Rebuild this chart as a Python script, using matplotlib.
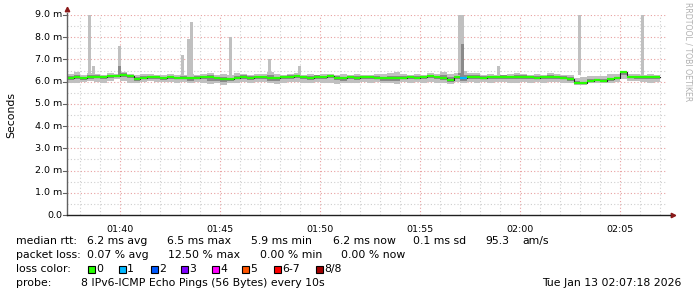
import numpy as np
import matplotlib
matplotlib.use("Agg")
import matplotlib.pyplot as plt

# smokeping style latency graph, 20 s buckets starting 01:37:21
start = "01:37:21"
step_s = 20

med = [6.18, 6.20, 6.16, 6.20, 6.22, 6.20, 6.25, 6.27, 6.30, 6.26, 6.12, 6.17, 6.20, 6.19, 6.16,
       6.20, 6.18, 6.17, 6.15, 6.18, 6.20, 6.22, 6.15, 6.12, 6.10, 6.18, 6.22, 6.18, 6.20, 6.20,
       6.18, 6.15, 6.20, 6.22, 6.25, 6.20, 6.18, 6.22, 6.20, 6.25, 6.18, 6.16, 6.20, 6.18, 6.20,
       6.20, 6.18, 6.16, 6.15, 6.15, 6.18, 6.20, 6.18, 6.20, 6.27, 6.20, 6.18, 6.08, 6.20, 6.15,
       6.20, 6.22, 6.18, 6.20, 6.20, 6.22, 6.20, 6.20, 6.22, 6.20, 6.18, 6.20, 6.22, 6.20, 6.18,
       6.12, 5.95, 5.93, 6.05, 6.08, 6.05, 6.10, 6.15, 6.45, 6.22, 6.20, 6.20, 6.20, 6.20]
lo = [5.95, 5.95, 6.00, 6.05, 6.00, 5.95, 6.05, 6.10, 6.05, 5.95, 5.95, 6.00, 6.05, 6.00, 6.00,
      6.00, 5.95, 6.00, 5.95, 6.00, 5.95, 5.90, 5.95, 5.85, 5.95, 5.95, 6.00, 5.95, 6.00, 6.00,
      5.95, 5.90, 5.95, 6.00, 6.00, 5.95, 5.95, 6.00, 5.95, 5.95, 5.90, 5.95, 5.95, 5.95, 6.00,
      5.95, 6.00, 5.95, 5.95, 5.90, 6.00, 5.95, 6.00, 5.95, 6.00, 5.95, 5.95, 5.90, 6.00, 5.95,
      6.00, 5.95, 6.00, 5.95, 6.00, 6.00, 5.95, 5.95, 6.00, 5.95, 6.00, 5.95, 6.00, 6.00, 5.95,
      5.95, 5.85, 5.85, 5.95, 5.95, 5.95, 5.95, 6.00, 6.10, 6.05, 6.05, 6.00, 5.95, 6.00]
hi = [6.35, 6.45, 6.30, 6.40, 6.35, 6.30, 6.40, 6.35, 6.45, 6.35, 6.30, 6.35, 6.35, 6.30, 6.30,
      6.35, 6.30, 6.30, 6.35, 6.30, 6.35, 6.40, 6.30, 6.35, 6.30, 6.40, 6.35, 6.30, 6.35, 6.35,
      6.45, 6.35, 6.30, 6.35, 6.40, 6.30, 6.35, 6.30, 6.35, 6.35, 6.30, 6.35, 6.30, 6.35, 6.30,
      6.30, 6.35, 6.35, 6.40, 6.45, 6.35, 6.30, 6.35, 6.30, 6.40, 6.35, 6.45, 6.35, 6.40, 6.50,
      6.40, 6.40, 6.30, 6.35, 6.30, 6.30, 6.35, 6.40, 6.35, 6.30, 6.35, 6.30, 6.40, 6.35, 6.30,
      6.30, 6.15, 6.20, 6.25, 6.25, 6.25, 6.35, 6.35, 6.50, 6.35, 6.35, 6.30, 6.35, 6.30]
mid_lo = [6.08, 6.12, 6.08, 6.12, 6.15, 6.10, 6.15, 6.20, 6.20, 6.15, 6.02, 6.10, 6.12, 6.10, 6.08,
          6.12, 6.10, 6.10, 6.05, 6.10, 6.10, 6.05, 6.05, 6.00, 6.02, 6.10, 6.12, 6.08, 6.12, 6.12,
          6.05, 6.02, 6.10, 6.12, 6.15, 6.10, 6.08, 6.12, 6.10, 6.15, 6.08, 6.05, 6.10, 6.08, 6.12,
          6.12, 6.10, 6.05, 6.05, 6.02, 6.10, 6.10, 6.10, 6.12, 6.18, 6.10, 6.08, 5.98, 6.10, 6.05,
          6.10, 6.12, 6.10, 6.12, 6.12, 6.14, 6.10, 6.10, 6.14, 6.10, 6.10, 6.12, 6.14, 6.12, 6.10,
          6.05, 5.90, 5.88, 6.00, 6.02, 6.00, 6.04, 6.10, 6.30, 6.15, 6.14, 6.12, 6.12, 6.14]
mid_hi = [6.25, 6.30, 6.22, 6.28, 6.28, 6.25, 6.30, 6.32, 6.38, 6.32, 6.20, 6.25, 6.25, 6.25, 6.22,
          6.25, 6.22, 6.24, 6.22, 6.24, 6.26, 6.30, 6.22, 6.20, 6.18, 6.26, 6.28, 6.24, 6.26, 6.25,
          6.28, 6.22, 6.26, 6.28, 6.32, 6.25, 6.25, 6.28, 6.26, 6.30, 6.24, 6.22, 6.26, 6.24, 6.25,
          6.25, 6.24, 6.22, 6.24, 6.26, 6.24, 6.26, 6.24, 6.26, 6.32, 6.26, 6.30, 6.20, 6.26, 6.30,
          6.30, 6.28, 6.24, 6.26, 6.25, 6.28, 6.26, 6.28, 6.28, 6.25, 6.24, 6.26, 6.28, 6.26, 6.24,
          6.20, 6.02, 6.00, 6.10, 6.14, 6.12, 6.18, 6.22, 6.48, 6.26, 6.26, 6.25, 6.26, 6.25]
# packet loss count (of 8) per bucket
loss = [0] * len(med)
loss[59] = 1

# single 10 s samples with outlier pings
spike_times = ["01:38:24", "01:38:36", "01:39:54", "01:43:03", "01:43:21", "01:43:30",
               "01:45:27", "01:47:24", "01:48:54", "01:56:54", "01:57:03", "01:58:51",
               "02:02:54", "02:06:03"]
spike_top = [9.5, 6.7, 7.6, 7.2, 7.9, 8.7, 8.0, 7.0, 6.7, 9.5, 9.5, 6.7, 9.5, 9.5]
spike_dark = [6.3, 6.3, 6.7, 6.3, 6.3, 6.3, 6.3, 6.3, 6.3, 6.4, 7.7, 6.3, 6.3, 6.3]

loss_labels = ["0", "1", "2", "3", "4", "5", "6-7", "8/8"]
loss_colors = ["#26ff00", "#00b8ff", "#0059ff", "#7e00ff", "#ff00ff", "#ff5500", "#ff0000", "#a10000"]


def to_min(s):
    h, m, sec = [int(v) for v in s.split(":")]
    return h * 60 + m + sec / 60


W, H = 697, 297
fig = plt.figure(figsize=(W / 100, H / 100), dpi=100)
ax = fig.add_axes([67 / W, (H - 215) / H, 600 / W, 200 / H])

t0 = to_min(start)
dt = step_s / 60
t = t0 + np.arange(len(med)) * dt
med = np.array(med)

ax.bar(t, np.array(hi) - np.array(lo), bottom=lo, width=dt, align="edge", color="#c0c0c0", lw=0, zorder=2)
ax.bar(t, np.array(mid_hi) - np.array(mid_lo), bottom=mid_lo, width=dt, align="edge", color="#8a8a8a", lw=0, zorder=3)

st = np.array([to_min(s) for s in spike_times])
ax.bar(st, np.array(spike_top) - 6.3, bottom=6.3, width=10 / 60, align="edge", color="#c0c0c0", lw=0, zorder=2)
ax.bar(st, np.array(spike_dark) - 6.3, bottom=6.3, width=10 / 60, align="edge", color="#8a8a8a", lw=0, zorder=3)

# median: black connectors, coloured by loss
ax.step(np.append(t, t[-1] + dt), np.append(med, med[-1]), where="post", color="#202020", lw=0.8, zorder=4)
ax.hlines(med, t, t + dt, colors=[loss_colors[l] for l in loss], lw=1.6, zorder=5)

x0, x1 = t0, t0 + 30
ax.set_xlim(x0, x1)
ax.set_ylim(0, 9)

# grid
for y in np.arange(0.5, 9, 1.0):
    ax.axhline(y, color="#cfcfcf", lw=0.8, ls=(0, (1, 2)), zorder=1)
for y in np.arange(1, 10, 1.0):
    ax.axhline(y, color="#e8a0a0", lw=0.8, ls=(0, (1, 2)), zorder=1)
for m in range(98, 128):
    c = "#e8a0a0" if m % 5 == 0 else "#cfcfcf"
    ax.axvline(m, color=c, lw=0.8, ls=(0, (1, 2)), zorder=1)

for s in ax.spines.values():
    s.set_visible(False)
ax.set_xticks([])
ax.set_yticks([])

# tick labels
for y in range(0, 10):
    lab = "0.0" if y == 0 else f"{y}.0 m"
    ax.text(-0.008, y / 9, lab, transform=ax.transAxes, ha="right", va="center", fontsize=6.8)
    ax.plot([-0.007, 0], [y / 9, y / 9], transform=ax.transAxes, color="#606060", lw=0.8, clip_on=False)
for m in range(100, 128, 5):
    ax.text(m, -0.05, f"{m // 60:02d}:{m % 60:02d}", transform=ax.get_xaxis_transform(),
            ha="center", va="top", fontsize=6.8)

# axes lines and arrows
ax.plot([0, 0], [0, 1.01], transform=ax.transAxes, color="#606060", lw=1, clip_on=False, zorder=6)
ax.plot([0, 1.005], [0, 0], transform=ax.transAxes, color="#202020", lw=1, clip_on=False, zorder=6)
ax.plot([0], [1.03], transform=ax.transAxes, marker="^", color="#8b1a1a", ms=3.2, clip_on=False)
ax.plot([1.01], [0], transform=ax.transAxes, marker=">", color="#8b1a1a", ms=3.2, clip_on=False)


def ft(x, y, s, **kw):
    kw.setdefault("fontsize", 7.8)
    fig.text(x / W, 1 - y / H, s, va="center", **kw)


ft(11, 115, "Seconds", rotation=90, ha="center")
ft(688, 52, "RRDTOOL / TOBI OETIKER", rotation=270, ha="center", color="#b0b0b0", fontsize=5.6)

ft(16, 241, "median rtt:")
for x, s in [(87, "6.2 ms avg"), (167, "6.5 ms max"), (251, "5.9 ms min"), (333, "6.2 ms now"),
             (413, "0.1 ms sd"), (485, "95.3"), (522, "am/s")]:
    ft(x, 241, s)
ft(16, 255, "packet loss:")
for x, s in [(87, "0.07 % avg"), (168, "12.50 % max"), (260, "0.00 % min"), (341, "0.00 % now")]:
    ft(x, 255, s)
ft(16, 269, "loss color:")
box_x = [88, 119, 151, 181, 212, 242, 274, 316]
for bx, lab, c in zip(box_x, loss_labels, loss_colors):
    fig.patches.append(plt.Rectangle((bx / W, 1 - 272.5 / H), 7 / W, 7 / H, transform=fig.transFigure,
                                     facecolor=c, edgecolor="black", lw=0.8))
    ft(bx + 8, 269, lab)
ft(16, 283, "probe:")
ft(81, 283, "8 IPv6-ICMP Echo Pings (56 Bytes) every 10s")
ft(681, 283, "Tue Jan 13 02:07:18 2026", ha="right")

fig.savefig("out.png", dpi=100)
